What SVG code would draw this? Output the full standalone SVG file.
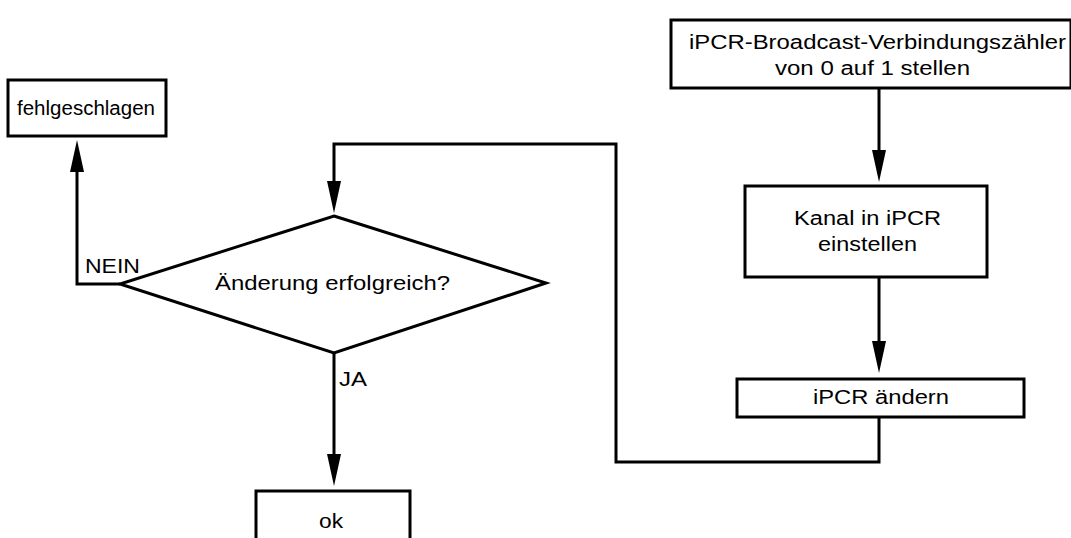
<svg xmlns="http://www.w3.org/2000/svg" width="1071" height="538" viewBox="0 0 1071 538">
  <style>
    .box { fill: #ffffff; stroke: #000000; stroke-width: 3; }
    .wire { fill: none; stroke: #000000; stroke-width: 3; }
    .lbl { font-family: "Liberation Sans", Arial, sans-serif; font-size: 20px; fill: #000000; }
  </style>
  <defs>
    <!-- long narrow filled arrowhead; path ends 10px before the tip -->
    <marker id="arrow" viewBox="0 0 32 14" refX="22" refY="7" markerWidth="32" markerHeight="14" markerUnits="userSpaceOnUse" orient="auto">
      <path d="M0,0 L32,7 L0,14 z" fill="#000000"/>
    </marker>
  </defs>
  <rect width="1071" height="538" fill="#ffffff"/>

  <g id="connectors">
    <path class="wire" d="M879,88 V172" marker-end="url(#arrow)"/>
    <path class="wire" d="M879,277 V363" marker-end="url(#arrow)"/>
    <path class="wire" d="M879,417 V462 H616 V144 H334 V203" marker-end="url(#arrow)"/>
    <path class="wire" d="M120,284 H77 V150" marker-end="url(#arrow)"/>
    <path class="wire" d="M334,353 V476" marker-end="url(#arrow)"/>
  </g>

  <g id="node-counter">
    <rect class="box" x="671" y="20" width="400" height="68"/>
    <text class="lbl" x="689" y="49" textLength="377" lengthAdjust="spacingAndGlyphs">iPCR-Broadcast-Verbindungszähler</text>
    <text class="lbl" x="775" y="75" textLength="195" lengthAdjust="spacingAndGlyphs">von 0 auf 1 stellen</text>
  </g>

  <g id="node-channel">
    <rect class="box" x="745" y="186" width="242" height="91"/>
    <text class="lbl" x="794" y="225" textLength="147" lengthAdjust="spacingAndGlyphs">Kanal in iPCR</text>
    <text class="lbl" x="818" y="251" textLength="99" lengthAdjust="spacingAndGlyphs">einstellen</text>
  </g>

  <g id="node-change">
    <rect class="box" x="737" y="379" width="287" height="38"/>
    <text class="lbl" x="813" y="404" textLength="136" lengthAdjust="spacingAndGlyphs">iPCR ändern</text>
  </g>

  <g id="node-decision">
    <polygon class="box" points="334,216 546,283 334,353 120,284"/>
    <text class="lbl" x="215" y="290" textLength="235" lengthAdjust="spacingAndGlyphs">Änderung erfolgreich?</text>
  </g>

  <g id="node-failed">
    <rect class="box" x="8" y="80" width="158" height="56"/>
    <text class="lbl" x="17" y="115" textLength="138" lengthAdjust="spacingAndGlyphs">fehlgeschlagen</text>
  </g>

  <g id="node-ok">
    <rect class="box" x="256" y="491" width="154" height="60"/>
    <text class="lbl" x="319" y="528" textLength="24" lengthAdjust="spacingAndGlyphs">ok</text>
  </g>

  <g id="edge-labels">
    <text class="lbl" x="85" y="273" textLength="55" lengthAdjust="spacingAndGlyphs">NEIN</text>
    <text class="lbl" x="339" y="386" textLength="28" lengthAdjust="spacingAndGlyphs">JA</text>
  </g>
</svg>
